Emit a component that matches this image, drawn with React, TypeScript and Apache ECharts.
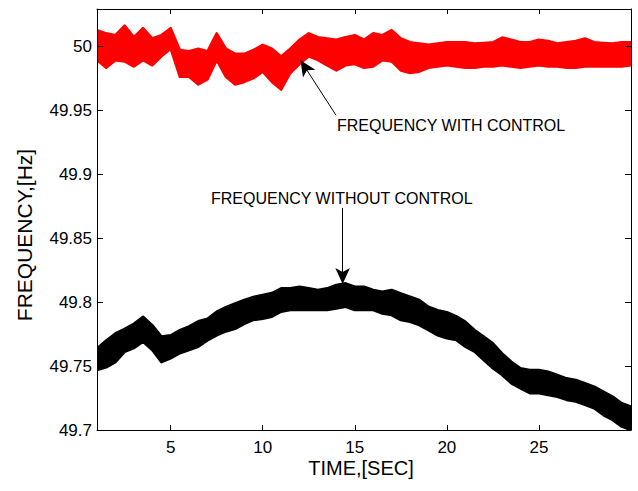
import React, { useEffect, useRef } from "react";
import * as echarts from "echarts";

const times = [
  1, 1.5, 2, 2.5, 3, 3.5, 4, 4.5, 5, 5.5, 6, 6.5, 7, 7.5, 8, 8.5, 9, 9.5, 10, 10.5,
  11, 11.5, 12, 12.5, 13, 13.5, 14, 14.5, 15, 15.5, 16, 16.5, 17, 17.5, 18, 18.5, 19, 19.5, 20,
  20.5, 21, 21.5, 22, 22.5, 23, 23.5, 24, 24.5, 25, 25.5, 26, 26.5, 27, 27.5, 28, 28.5, 29, 29.5, 30,
];

const withControlHi = [
  50.0125, 50.01, 50.0086, 50.016, 50.007, 50.014, 50.006, 50.0086, 50.014, 49.997, 49.996, 49.998, 49.996, 50.01, 49.998, 49.994, 49.994, 49.997, 50.001, 49.998,
  49.992, 49.998, 50.005, 50.01, 50.007, 50.006, 50.005, 50.007, 50.0086, 50.005, 50.01, 50.0086, 50.0125, 50.006, 50.003, 50.002, 50.001, 50.002, 50.003,
  50.003, 50.003, 50.002, 50.0025, 50.003, 50.0067, 50.005, 50.003, 50.003, 50.005, 50.004, 50.002, 50.003, 50.004, 50.006, 50.003, 50.0025, 50.002, 50.003, 50.003,
];
const withControlLo = [
  49.989, 49.983, 49.989, 49.988, 49.984, 49.989, 49.985, 49.992, 49.998, 49.976, 49.976, 49.97, 49.974, 49.989, 49.976, 49.97, 49.972, 49.975, 49.98, 49.972,
  49.966, 49.979, 49.986, 49.992, 49.989, 49.985, 49.981, 49.985, 49.986, 49.983, 49.984, 49.989, 49.988, 49.981, 49.979, 49.98, 49.983, 49.984, 49.985,
  49.984, 49.983, 49.983, 49.984, 49.984, 49.985, 49.984, 49.983, 49.984, 49.985, 49.984, 49.984, 49.983, 49.983, 49.984, 49.984, 49.984, 49.984, 49.984, 49.985,
];
const withoutControlHi = [
  49.7638, 49.77, 49.7755, 49.779, 49.783, 49.7885, 49.782, 49.773, 49.774, 49.778, 49.781, 49.785, 49.787, 49.7925, 49.796, 49.799, 49.8016, 49.804, 49.8055, 49.807,
  49.8107, 49.8107, 49.812, 49.8107, 49.8094, 49.8107, 49.8133, 49.8146, 49.812, 49.812, 49.8094, 49.808, 49.8094, 49.8068, 49.8042, 49.8016, 49.7963, 49.7937, 49.792,
  49.789, 49.7847, 49.7782, 49.773, 49.7677, 49.7599, 49.7534, 49.7482, 49.7469, 49.7469, 49.7456, 49.743, 49.7404, 49.7391, 49.7365, 49.7339, 49.73, 49.7261, 49.7209, 49.7183,
];
const withoutControlLo = [
  49.7469, 49.749, 49.753, 49.761, 49.764, 49.769, 49.7625, 49.753, 49.756, 49.76, 49.7625, 49.765, 49.77, 49.774, 49.777, 49.779, 49.783, 49.786, 49.787, 49.7885,
  49.7924, 49.7937, 49.7937, 49.7937, 49.7937, 49.7937, 49.795, 49.7963, 49.7937, 49.7937, 49.7937, 49.791, 49.7898, 49.7859, 49.7846, 49.782, 49.778, 49.774, 49.7716,
  49.7703, 49.7651, 49.7612, 49.7547, 49.7482, 49.743, 49.7365, 49.7326, 49.7287, 49.7287, 49.7274, 49.726, 49.7235, 49.7222, 49.7196, 49.717, 49.7117, 49.7078, 49.7026, 49.7,
];

const xTicks = [5, 10, 15, 20, 25];
const yTicks = [49.7, 49.75, 49.8, 49.85, 49.9, 49.95, 50];
const yTickLabels = ["49.7", "49.75", "49.8", "49.85", "49.9", "49.95", "50"];

const FONT = "'Liberation Sans', Arial, Helvetica, sans-serif";

function bandSeries(name: string, lo: number[], hi: number[], color: string) {
  return {
    name,
    type: "custom",
    data: times.map((t, i) => [t, lo[i], hi[i]]),
    encode: { x: 0, y: [1, 2] },
    clip: true,
    z: 2,
    renderItem: (params: any, api: any) => {
      if (params.dataIndex !== 0) return null;
      const pts: number[][] = [];
      for (let i = 0; i < times.length; i++) pts.push(api.coord([times[i], hi[i]]));
      for (let i = times.length - 1; i >= 0; i--) pts.push(api.coord([times[i], lo[i]]));
      return {
        type: "polygon",
        shape: { points: pts },
        style: { fill: color, stroke: color, lineWidth: 2.5, lineJoin: "round" },
      };
    },
  };
}

export default function App() {
  const ref = useRef<HTMLDivElement>(null);
  useEffect(() => {
    if (!ref.current) return;
    const chart = echarts.init(ref.current, null, { renderer: "svg" });
    const arrowSeries = (from: number[], to: number[]) => ({
      type: "line",
      data: [],
      symbol: "none",
      z: 3,
      markLine: {
        silent: true,
        animation: false,
        symbol: ["none", "arrow"],
        symbolSize: [11, 16],
        label: { show: false },
        lineStyle: { color: "#000", width: 1, type: "solid" },
        data: [[{ coord: from }, { coord: to }]],
      },
    });
    const axisCommon = {
      axisLine: { show: true, lineStyle: { color: "#000", width: 1 } },
      splitLine: { show: false },
      z: 10,
    };
    chart.setOption({
      animation: false,
      backgroundColor: "#fff",
      grid: { left: 97, right: 7, top: 9, bottom: 61, containLabel: false },
      xAxis: [
        {
          type: "value",
          min: 1,
          max: 30,
          position: "bottom",
          ...axisCommon,
          axisTick: { show: true, inside: true, length: 5, customValues: xTicks, lineStyle: { color: "#000" } },
          axisLabel: { customValues: xTicks, color: "#000", fontSize: 17, fontFamily: FONT, margin: 9 },
        },
        {
          type: "value",
          min: 1,
          max: 30,
          position: "top",
          ...axisCommon,
          axisTick: { show: true, inside: true, length: 5, customValues: xTicks, lineStyle: { color: "#000" } },
          axisLabel: { show: false },
        },
      ],
      yAxis: [
        {
          type: "value",
          min: 49.7,
          max: 50.029,
          position: "left",
          ...axisCommon,
          axisTick: { show: true, inside: true, length: 6, customValues: yTicks, lineStyle: { color: "#000" } },
          axisLabel: {
            customValues: yTicks,
            color: "#000",
            fontSize: 17,
            fontFamily: FONT,
            margin: 5,
            formatter: (v: number) => {
              const i = yTicks.findIndex((t) => Math.abs(t - v) < 1e-6);
              return i >= 0 ? yTickLabels[i] : "";
            },
          },
        },
        {
          type: "value",
          min: 49.7,
          max: 50.029,
          position: "right",
          ...axisCommon,
          axisTick: { show: true, inside: true, length: 6, customValues: yTicks, lineStyle: { color: "#000" } },
          axisLabel: { show: false },
        },
      ],
      series: [
        bandSeries("FREQUENCY WITH CONTROL", withControlLo, withControlHi, "#ff0000"),
        bandSeries("FREQUENCY WITHOUT CONTROL", withoutControlLo, withoutControlHi, "#000000"),
        arrowSeries([13.98, 49.946], [12.05, 49.989]),
        arrowSeries([14.34, 49.8734], [14.34, 49.814]),
      ],
      graphic: [
        {
          type: "text",
          left: 337,
          top: 117,
          style: { text: "FREQUENCY WITH CONTROL", fontSize: 16, fontFamily: FONT, fill: "#000" },
        },
        {
          type: "text",
          left: 211,
          top: 190,
          style: { text: "FREQUENCY WITHOUT CONTROL", fontSize: 16, fontFamily: FONT, fill: "#000" },
        },
        {
          type: "text",
          x: 361,
          y: 468,
          style: { text: "TIME,[SEC]", fontSize: 20, fontFamily: FONT, fill: "#000", align: "center", verticalAlign: "middle" },
        },
        {
          type: "text",
          x: 24,
          y: 235,
          rotation: Math.PI / 2,
          style: { text: "FREQUENCY,[Hz]", fontSize: 21, fontFamily: FONT, fill: "#000", align: "center", verticalAlign: "middle" },
        },
      ],
    });
    return () => chart.dispose();
  }, []);
  return <div ref={ref} style={{ position: "fixed", left: 0, top: 0, width: 638, height: 491 }} />;
}
